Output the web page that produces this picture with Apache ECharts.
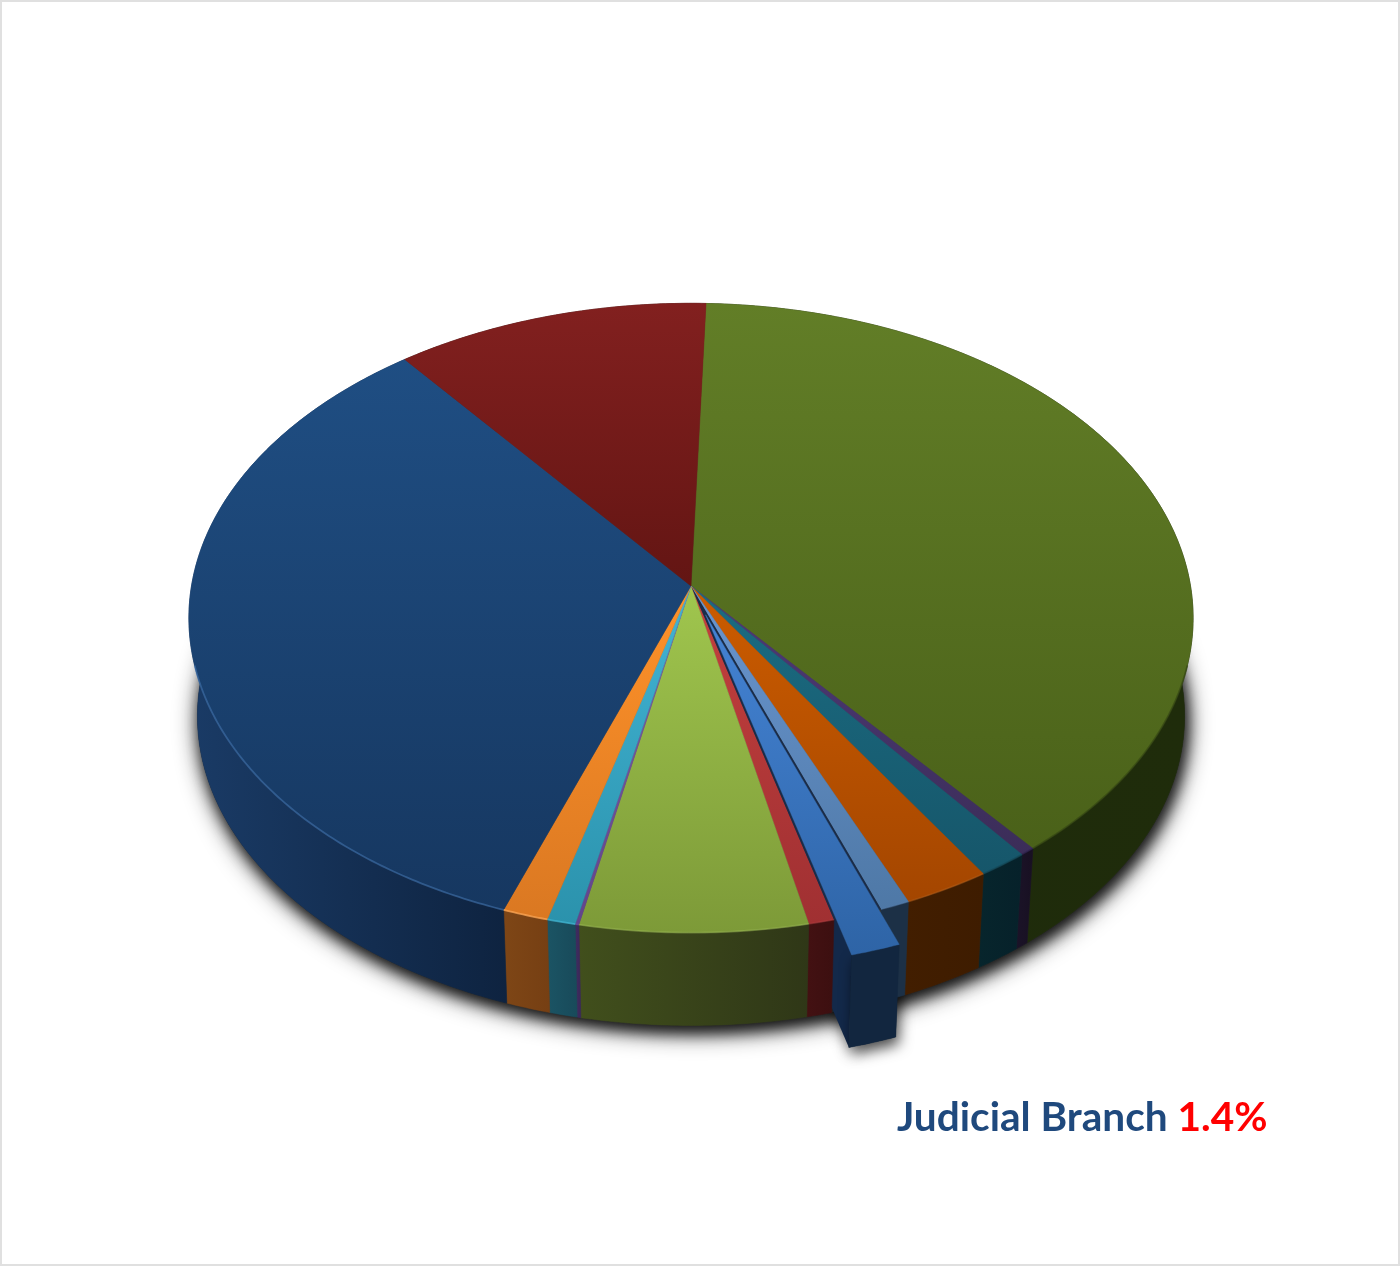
<!DOCTYPE html>
<html><head><meta charset="utf-8">
<style>html,body{margin:0;padding:0;background:#fff}#c{width:1400px;height:1266px}</style>
<script src="https://cdn.jsdelivr.net/npm/echarts@6/dist/echarts.min.js"></script>
</head><body><div id="c"></div>
<script>
// ---- data (share of the pie, percent, clockwise from the top) ----
const categories = ['Olive segment','Purple segment','Teal segment','Orange segment','Steel blue segment','Judicial Branch','Red segment','Light green segment','Violet segment','Cyan segment','Amber segment','Navy segment','Maroon segment'];
const shares = [38.6,0.43,1.44,2.53,0.86,1.44,0.75,6.64,0.11,0.83,1.33,33.86,11.14];
const labelName = 'Judicial Branch';
const labelValue = '1.4%';
const explodedIndex = 5;

// ---- styles ----
const topFrom = ['#627e27','#4f3a78','#1b6c82','#cc5c00','#6a96d0','#4483d4','#c4403e','#a0c64e','#7d60a4','#42b4d4','#ff9229','#1f4e83','#82201f'];
const topTo   = ['#4a6119','#3b2d58','#16566a','#a44600','#4e78a6','#2e64a6','#a03032','#7d9a38','#62448c','#2b92ac','#da7822','#163760','#631513'];
const sideFrom= ['#1e2a0b','#1b1328','#07252c','#421e00','#1c3046','#12263f','#431112','#414f1c','#3f2c60','#1b5464','#7e4616','#1a3b66','#3a0f0e'];
const sideTo  = ['#1f2c0b','#181022','#06212a','#3e1c00','#1c3046','#12263f','#3c0f10','#2f3717','#3a2858','#184a5a','#763f13','#0e2340','#3a0f0e'];
const rimTint = ['rgba(50,66,18,.6)','rgba(40,30,70,.5)','rgba(20,70,85,.6)','rgba(190,110,40,.3)','rgba(90,130,180,.3)','rgba(0,0,0,0)','rgba(190,70,70,.3)','rgba(160,190,90,.4)','rgba(110,90,160,.5)','rgba(70,190,220,.6)','rgba(255,170,90,.7)','rgba(70,120,180,.55)','rgba(0,0,0,0)'];

// ---- projection of the tilted disc ----
const CX=691, CY=586, A=499.5, B=311.4, K=0.1016, DEPTH=0.983, VY=6394, EXPLODE=0.096, START=1.9*Math.PI/180;
const total = shares.reduce((a,b)=>a+b,0);
function plane(u,v){const w=1-K*v;return [CX+A*u/w, CY+B*v/w];}
function lower(p){return [CX+DEPTH*(p[0]-CX), VY+DEPTH*(p[1]-VY)];}
function sliceAngles(i){
  let s=0; for(let j=0;j<i;j++) s+=shares[j];
  return [START+s/total*2*Math.PI, START+(s+shares[i])/total*2*Math.PI];
}
function offsetOf(i,a0,a1){
  if(i!==explodedIndex) return [0,0];
  const m=(a0+a1)/2; return [EXPLODE*Math.sin(m), -EXPLODE*Math.cos(m)];
}
function pt(t,o){return plane(Math.sin(t)+o[0], -Math.cos(t)+o[1]);}
function arc(a0,a1,o){
  const n=Math.max(2,Math.ceil((a1-a0)/0.01)), r=[];
  for(let k=0;k<=n;k++) r.push(pt(a0+(a1-a0)*k/n,o));
  return r;
}
function grad(x,c0,c1){
  return x?new echarts.graphic.LinearGradient(0,0,1,0,[{offset:0,color:c0},{offset:1,color:c1}])
          :new echarts.graphic.LinearGradient(0,0,0,1,[{offset:0,color:c0},{offset:1,color:c1}]);
}
const SHADOW={shadowBlur:24,shadowColor:'rgba(0,0,0,.9)',shadowOffsetY:6,shadowOffsetX:2};
const SHADOW_CORE={shadowBlur:14,shadowColor:'rgba(0,0,0,.7)',shadowOffsetY:7,shadowOffsetX:3};

function renderItem(params,api){
  const i=params.dataIndex, ang=sliceAngles(i), a0=ang[0], a1=ang[1];
  const o=offsetOf(i,a0,a1), rim=arc(a0,a1,o), apex=plane(o[0],o[1]);
  const kids=[];
  const exploded=i===explodedIndex;
  const sidePts=rim.concat(rim.map(lower).reverse());
  const topPts=[apex].concat(rim);
  const topFill=grad(false,topFrom[i],topTo[i]);
  const sideFill=grad(true,sideFrom[i],sideTo[i]);
  if(i===0){
    // soft shadow cast by the base of the disc
    const base=arc(0,2*Math.PI,[0,0]).map(lower);
    kids.push({type:'polygon',z2:0,shape:{points:base},style:Object.assign({fill:'#333'},SHADOW)});
    kids.push({type:'polygon',z2:0,shape:{points:base},style:Object.assign({fill:'#333'},SHADOW_CORE)});
  }
  if(exploded){
    // left inner wall: only shows outside the disc, so it sits under the other slices
    const b=rim[rim.length-1], wall=[apex,b,lower(b),lower(apex)];
    kids.push({type:'polygon',z2:1,shape:{points:wall},style:Object.assign({fill:'#13294a'},SHADOW_CORE)});
    kids.push({type:'polygon',z2:1,shape:{points:sidePts},style:Object.assign({fill:'#12263f'},SHADOW_CORE)});
    // the hole the slice leaves in the disc
    kids.push({type:'polygon',z2:5,shape:{points:[plane(0,0)].concat(arc(a0,a1,[0,0]))},style:{fill:'#1a2c48'}});
    kids.push({type:'polygon',z2:7,shape:{points:sidePts},style:{fill:'#12263f',stroke:'#12263f',lineWidth:.5}});
    kids.push({type:'polygon',z2:8,shape:{points:topPts},style:{fill:topFill,stroke:topFill,lineWidth:.4}});
  }else{
    kids.push({type:'polygon',z2:2,shape:{points:sidePts},style:{fill:sideFill,stroke:sideFill,lineWidth:.6}});
    kids.push({type:'polygon',z2:3,shape:{points:topPts},style:{fill:topFill,stroke:topFill,lineWidth:.5}});
    // bevel along the front edge only
    const f0=Math.max(a0,Math.PI*0.58), f1=Math.min(a1,Math.PI*1.42);
    if(f1>f0) kids.push({type:'polyline',z2:4,shape:{points:arc(f0,f1,[0,0])},style:{fill:null,stroke:rimTint[i],lineWidth:1.8}});
  }
  return {type:'group',children:kids};
}

const chart=echarts.init(document.getElementById('c'),null,{renderer:'canvas'});
chart.setOption({
  animation:false,
  backgroundColor:'#ffffff',
  title:{
    left:897,top:1097,padding:0,
    text:'{n|'+labelName+'}{g| }{v|'+labelValue+'}',
    textStyle:{rich:{
      n:{fontFamily:'Lato',fontWeight:'bold',fontSize:40.6,color:'#1f497d'},
      g:{fontFamily:'Lato',fontWeight:'bold',fontSize:40.6,color:'#1f497d'},
      v:{fontFamily:'Lato',fontWeight:'bold',fontSize:40.6,color:'#ff0000'}
    }}
  },
  graphic:[{type:'rect',silent:true,z:-1,shape:{x:1,y:1,width:1398,height:1264},style:{fill:'#fff',stroke:'#e0e0e0',lineWidth:2}}],
  series:[{
    type:'custom',coordinateSystem:'none',renderItem:renderItem,silent:true,clip:false,
    data:categories.map((c,i)=>({name:c,value:[shares[i]]}))
  }]
});
</script></body></html>
